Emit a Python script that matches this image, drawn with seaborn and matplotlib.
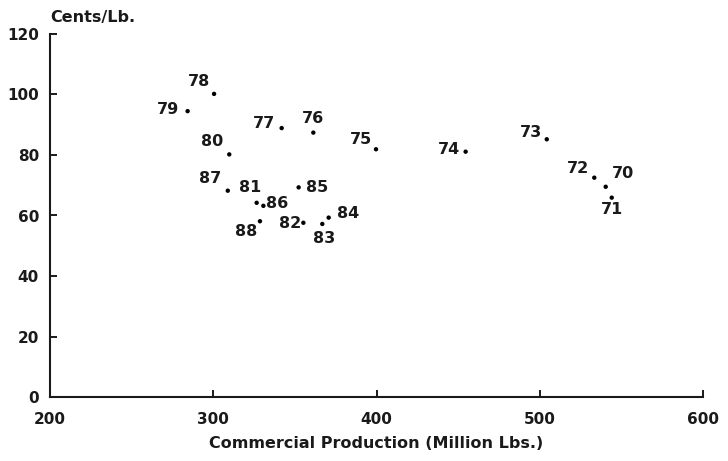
import matplotlib
matplotlib.use("Agg")
import matplotlib.pyplot as plt
import seaborn as sns
import pandas as pd

# Commercial production vs. price, 1970-1988
years = ["70", "71", "72", "73", "74", "75", "76", "77", "78", "79",
         "80", "81", "82", "83", "84", "85", "86", "87", "88"]
production = [540.4, 544.1, 533.4, 504.3, 454.6, 399.7, 361.3, 341.9, 300.5, 284.3,
              309.8, 326.6, 355.2, 366.8, 370.7, 352.3, 330.7, 308.9, 328.6]
cents_per_lb = [69.5, 65.9, 72.5, 85.2, 81.1, 81.9, 87.4, 88.9, 100.2, 94.5,
                80.2, 64.2, 57.6, 57.2, 59.3, 69.3, 63.2, 68.2, 58.1]

# label placement around each point (pixels)
label_dx = [17, 0, -16, -16, -17, -15, 0, -18, -15, -20,
            -17, -7, -13, 2, 19, 18, 14, -18, -14]
label_dy = [13, -12, 9, 7, 2, 10, 14, 5, 12, 2,
            13, 15, -1, -15, 4, 0, 2, 12, -10]

x_ticks = [200, 300, 400, 500, 600]
y_ticks = [0, 20, 40, 60, 80, 100, 120]

df = pd.DataFrame({"year": years, "production": production, "price": cents_per_lb})

sns.set_style("ticks")
plt.rcParams["font.family"] = ["DejaVu Sans"]
plt.rcParams["font.weight"] = "bold"

fig = plt.figure(figsize=(7.28, 4.61), dpi=100)
ax = fig.add_axes([50 / 728, 1 - 397 / 461, 653 / 728, 363 / 461])

sns.scatterplot(data=df, x="production", y="price", ax=ax, color="black",
                s=10, edgecolor="none", legend=False, zorder=3)

for yr, xv, yv, dx, dy in zip(years, production, cents_per_lb, label_dx, label_dy):
    ax.annotate(yr, (xv, yv), xytext=(dx, dy), textcoords="offset pixels",
                ha="center", va="center", fontsize=11.5, fontweight="bold",
                color="#1a1a1a")

ax.set_xlim(200, 600)
ax.set_ylim(0, 120)
ax.set_xticks(x_ticks)
ax.set_yticks(y_ticks)
ax.tick_params(axis="both", direction="in", length=5, width=1.4,
               labelsize=11, colors="#1a1a1a")
ax.tick_params(axis="x", pad=11)
ax.tick_params(axis="y", pad=8)
for lbl in ax.get_xticklabels() + ax.get_yticklabels():
    lbl.set_fontweight("bold")

sns.despine(ax=ax)
for side in ("left", "bottom"):
    ax.spines[side].set_linewidth(1.5)
    ax.spines[side].set_color("#1a1a1a")

ax.set_xlabel("Commercial Production (Million Lbs.)", fontsize=11.5,
              fontweight="bold", labelpad=6, color="#1a1a1a")
ax.set_ylabel("")
ax.text(0.0, 1.025, "Cents/Lb.", transform=ax.transAxes, ha="left", va="bottom",
        fontsize=11.5, fontweight="bold", color="#1a1a1a")

fig.savefig("out.png", dpi=100, facecolor="white")
